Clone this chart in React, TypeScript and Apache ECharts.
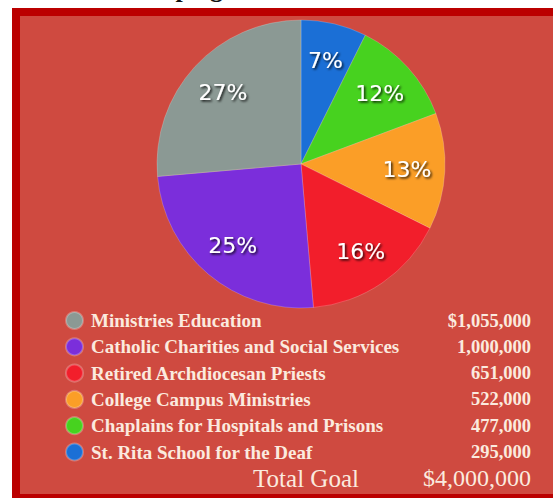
import React, { useEffect, useRef } from "react";
import * as echarts from "echarts";

const categories = [
  "Ministries Education",
  "Catholic Charities and Social Services",
  "Retired Archdiocesan Priests",
  "College Campus Ministries",
  "Chaplains for Hospitals and Prisons",
  "St. Rita School for the Deaf",
];
const amounts = [1055000, 1000000, 651000, 522000, 477000, 295000];
const percentLabels = ["27%", "25%", "16%", "13%", "12%", "7%"];
const sliceColors = ["#8b9994", "#7b2edb", "#f21e2b", "#fb9e27", "#47d21f", "#1b6fd6"];
const titleText = "Campaign";
const totalLabel = "Total Goal";

const fmt = (v: number) => v.toLocaleString("en-US");

export default function App() {
  const ref = useRef<HTMLDivElement>(null);
  useEffect(() => {
    if (!ref.current) return;
    const chart = echarts.init(ref.current, null, { renderer: "svg" });
    const total = amounts.reduce((a, b) => a + b, 0);
    const pieData = categories
      .map((name, i) => ({ name, value: amounts[i], itemStyle: { color: sliceColors[i] } }))
      .reverse();
    const valueLabel: Record<string, string> = {};
    const pctLabel: Record<string, string> = {};
    categories.forEach((c, i) => {
      valueLabel[c] = (i === 0 ? "$" : "") + fmt(amounts[i]);
      pctLabel[c] = percentLabels[i];
    });
    const textColor = "#fbeadf";
    chart.setOption({
      animation: false,
      backgroundColor: "#ffffff",
      graphic: [
        { type: "rect", shape: { x: 12, y: 8, width: 541, height: 490 }, style: { fill: "#bb0000" }, z: -10 },
        { type: "rect", shape: { x: 20, y: 16, width: 533, height: 478 }, style: { fill: "#cf4a40" }, z: -9 },
        {
          type: "text",
          x: 122,
          y: 1,
          style: {
            text: titleText,
            font: "bold 26px 'Liberation Serif'",
            fill: "#111111",
            textVerticalAlign: "bottom",
          },
          z: -11,
        },
        {
          type: "text",
          x: 306,
          y: 478,
          style: {
            text: totalLabel,
            font: "25px 'Liberation Serif'",
            fill: textColor,
            textAlign: "center",
            textVerticalAlign: "middle",
          },
        },
        {
          type: "text",
          x: 531,
          y: 478,
          style: {
            text: "$" + fmt(total),
            font: "24px 'Liberation Serif'",
            fill: textColor,
            textAlign: "right",
            textVerticalAlign: "middle",
          },
        },
      ],
      legend: {
        data: categories,
        orient: "vertical",
        left: 65,
        top: 311,
        padding: 0,
        itemWidth: 17,
        itemHeight: 17,
        itemGap: 7.3,
        icon: "circle",
        selectedMode: false,
        formatter: (name: string) => `{a|${name}}{b|${valueLabel[name]}}`,
        textStyle: {
          lineHeight: 17,
          fontSize: 17,
          rich: {
            a: {
              width: 330,
              height: 17,
              padding: [0, 0, 0, 3],
              fontFamily: "Liberation Serif",
              fontWeight: "bold",
              fontSize: 19,
              color: textColor,
              lineHeight: 17,
            },
            b: {
              width: 110,
              height: 17,
              align: "right",
              fontFamily: "Liberation Serif",
              fontWeight: "bold",
              fontSize: 18.5,
              color: textColor,
              lineHeight: 17,
            },
          },
        },
      },
      series: [
        {
          type: "pie",
          center: [301, 164],
          radius: 144,
          startAngle: 90,
          clockwise: true,
          silent: true,
          label: { show: false },
          labelLine: { show: false },
          itemStyle: { borderColor: "rgba(255,255,255,0.25)", borderWidth: 0.8 },
          data: pieData,
        },
        {
          type: "pie",
          center: [301, 164],
          radius: [62, 144],
          startAngle: 90,
          clockwise: true,
          silent: true,
          legendHoverLink: false,
          itemStyle: { color: "rgba(0,0,0,0)" },
          label: {
            show: true,
            position: "inside",
            formatter: (p: any) => pctLabel[p.name],
            fontFamily: "DejaVu Sans",
            fontSize: 22,
            color: "#ffffff",
            textShadowColor: "rgba(0,0,0,0.85)",
            textShadowBlur: 2,
            textShadowOffsetX: 1.5,
            textShadowOffsetY: 1.5,
          },
          labelLine: { show: false },
          data: pieData.map((d) => ({ name: d.name, value: d.value })),
        },
      ],
    });
    return () => chart.dispose();
  }, []);
  return (
    <div
      ref={ref}
      style={{ position: "fixed", left: 0, top: 0, width: 553, height: 498 }}
    />
  );
}
